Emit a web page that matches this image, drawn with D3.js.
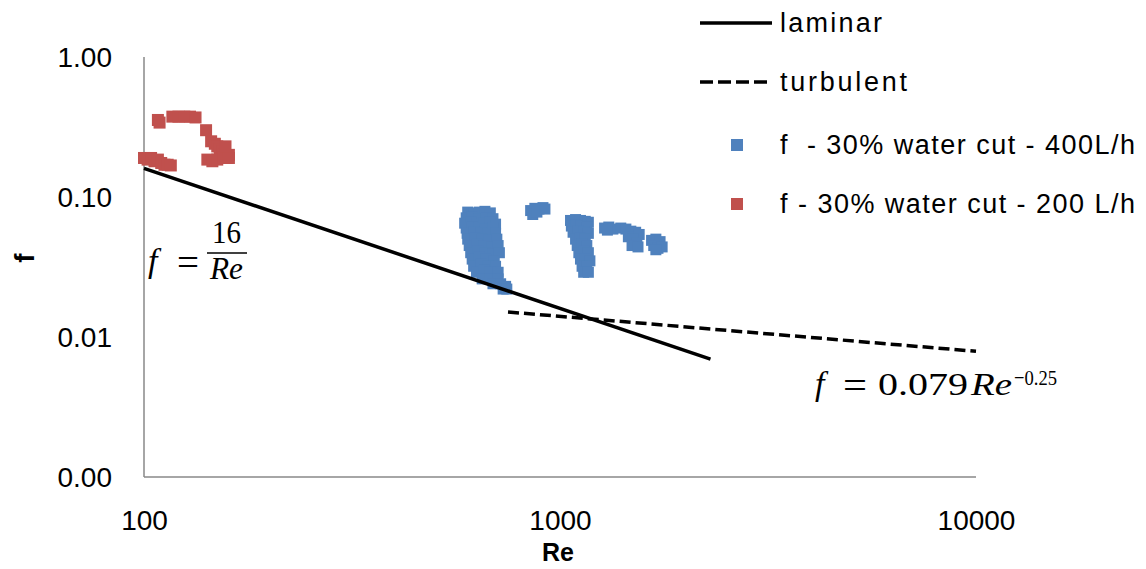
<!DOCTYPE html>
<html><head><meta charset="utf-8">
<script src="https://cdn.jsdelivr.net/npm/d3@7"></script>
<style>body{margin:0;background:#fff}text{font-family:"Liberation Sans",Arial,sans-serif}text.m{font-family:"Liberation Serif","DejaVu Serif",serif}</style>
</head><body><svg id="c" width="1146" height="569"></svg>
<script>
const xTicks=[100,1000,10000];
const yTicks=[0.001,0.01,0.1,1];
const laminarRe=[100,2300];
const turbulentRe=[750,10000];
const series400Re=[600,620,640,660,680, 595,615,640,665,690, 590,610,630,655,680,700, 595,615,640,660,690, 598,620,645,670,700, 600,625,650,675,705, 605,630,655,685,710, 610,635,660,690,715, 615,640,665,695, 620,645,670,700, 630,655,680,710, 650,680,710, 690,720,740, 730,745,
 850,870,890,910,860,880,920,
 1060,1090,1120,1150,1170, 1065,1095,1125,1160, 1075,1105,1140,1170, 1090,1120,1150, 1100,1130,1160, 1110,1140,1170, 1120,1150,1180, 1130,1160, 1140,1170,
 1280,1310,1340,1300,
 1400,1440,1480,1520,1550,1460,1500,1530,1490,1540,
 1660,1700,1740,1680,1720,1760,1700];
const series400f=[0.078,0.077,0.078,0.079,0.077, 0.071,0.072,0.07,0.071,0.07, 0.065,0.066,0.064,0.065,0.066,0.064, 0.06,0.061,0.06,0.059,0.06, 0.055,0.056,0.055,0.054,0.055, 0.05,0.051,0.05,0.049,0.05, 0.045,0.046,0.045,0.044,0.045, 0.04,0.041,0.04,0.039,0.04, 0.036,0.037,0.036,0.035, 0.032,0.033,0.032,0.032, 0.029,0.03,0.029,0.029, 0.026,0.026,0.026, 0.024,0.024,0.023, 0.022,0.022,
 0.08,0.083,0.082,0.084,0.075,0.078,0.082,
 0.068,0.069,0.068,0.067,0.066, 0.062,0.063,0.062,0.061, 0.056,0.057,0.056,0.055, 0.05,0.051,0.05, 0.045,0.046,0.045, 0.04,0.041,0.04, 0.036,0.036,0.035, 0.032,0.032, 0.029,0.029,
 0.06,0.061,0.059,0.058,
 0.06,0.059,0.057,0.056,0.054,0.052,0.05,0.047,0.045,0.044,
 0.049,0.05,0.048,0.045,0.043,0.044,0.042];
const series200Re=[100,102,104,106,108,110,112,114,116,108,109,117,121,125,129,133,141,145,148,150,152,154,156,158,160,142,146,150,155,160,157];
const series200f=[0.19,0.185,0.19,0.18,0.185,0.175,0.17,0.17,0.168,0.355,0.34,0.375,0.375,0.375,0.375,0.37,0.30,0.25,0.24,0.23,0.22,0.21,0.2,0.19,0.19,0.185,0.18,0.185,0.19,0.2,0.23];
const legendLabels=["laminar","turbulent","f  - 30% water cut - 400L/h","f - 30% water cut - 200 L/h"];
const blue="#4F81BD", red="#C0504D";

const svg=d3.select("#c");
const x=d3.scaleLog().domain([100,10000]).range([144,976]);
const y=d3.scaleLog().domain([0.001,1]).range([477,57]);

// axes
svg.append("line").attr("x1",x(100)).attr("x2",x(100)).attr("y1",y(1)).attr("y2",y(0.001)).attr("stroke","#898989").attr("stroke-width",1.5);
svg.append("line").attr("x1",x(100)).attr("x2",x(10000)).attr("y1",y(0.001)).attr("y2",y(0.001)).attr("stroke","#898989").attr("stroke-width",1.5);
const ya=svg.append("g").attr("transform",`translate(${x(100)},0)`).call(d3.axisLeft(y).tickValues(yTicks).tickFormat(d=>d.toFixed(2)).tickSize(0).tickPadding(32));
ya.select(".domain").remove();
ya.selectAll("text").attr("font-size",28).attr("fill","#000").attr("dy","0.35em");
const xa=svg.append("g").attr("transform",`translate(0,${y(0.001)})`).call(d3.axisBottom(x).tickValues(xTicks).tickFormat(d3.format("d")).tickSize(0).tickPadding(0));
xa.select(".domain").remove();
xa.selectAll("text").attr("font-size",28).attr("fill","#000").attr("dy",null).attr("y",53);
svg.append("text").attr("x",558).attr("y",561).attr("text-anchor","middle").attr("font-size",25).attr("font-weight","bold").text("Re");
svg.append("text").attr("transform","translate(34,258) rotate(-90)").attr("text-anchor","middle").attr("font-size",28).attr("font-weight","bold").text("f");

// points
const sq=11;
svg.append("g").selectAll("rect").data(series400Re.map((r,i)=>[r,series400f[i]])).join("rect")
 .attr("x",d=>x(d[0])-sq/2).attr("y",d=>y(d[1])-sq/2).attr("width",sq).attr("height",sq).attr("fill",blue);
svg.append("g").selectAll("rect").data(series200Re.map((r,i)=>[r,series200f[i]])).join("rect")
 .attr("x",d=>x(d[0])-6).attr("y",d=>y(d[1])-6).attr("width",12).attr("height",12).attr("fill",red);

// lines
const lam=Re=>16/Re, turb=Re=>0.079*Math.pow(Re,-0.25);
const line=d3.line().x(d=>x(d[0])).y(d=>y(d[1]));
svg.append("path").attr("d",line(laminarRe.map(r=>[r,lam(r)]))).attr("stroke","#000").attr("stroke-width",3.5).attr("fill","none");
svg.append("path").attr("d",line(turbulentRe.map(r=>[r,turb(r)]))).attr("stroke","#000").attr("stroke-width",3.5).attr("stroke-dasharray","11,5").attr("fill","none");

// equations
const eq=svg.append("g").attr("font-size",32);
const mt=(xx,yy,t)=>eq.append("text").attr("class","m").attr("x",xx).attr("y",yy).text(t);
mt(148,272,"f").attr("font-style","italic").attr("font-size",34);
mt(188,275,"=").attr("text-anchor","middle").attr("font-size",38).attr("textLength",22).attr("lengthAdjust","spacingAndGlyphs");
mt(212,243,"16").attr("textLength",29).attr("lengthAdjust","spacingAndGlyphs");
eq.append("line").attr("x1",207).attr("x2",247).attr("y1",253).attr("y2",253).attr("stroke","#000").attr("stroke-width",1.6);
mt(210,279,"Re").attr("font-style","italic").attr("textLength",33).attr("lengthAdjust","spacingAndGlyphs");
mt(815,395,"f").attr("font-style","italic").attr("font-size",34);
mt(855,398,"=").attr("text-anchor","middle").attr("font-size",38).attr("textLength",24).attr("lengthAdjust","spacingAndGlyphs");
mt(878,395,"0.079").attr("textLength",90).attr("lengthAdjust","spacingAndGlyphs");
mt(971,395,"Re").attr("font-style","italic").attr("textLength",41).attr("lengthAdjust","spacingAndGlyphs");
mt(1014,385,"−0.25").attr("font-size",22).attr("textLength",43).attr("lengthAdjust","spacingAndGlyphs");

// legend
const lg=svg.append("g");
const ly=[23,82,145,204];
const lw=[102,127,355,355];
lg.append("line").attr("x1",700).attr("x2",772).attr("y1",ly[0]).attr("y2",ly[0]).attr("stroke","#000").attr("stroke-width",3.5);
lg.append("line").attr("x1",700).attr("x2",772).attr("y1",ly[1]).attr("y2",ly[1]).attr("stroke","#000").attr("stroke-width",3.5).attr("stroke-dasharray","13,5");
lg.append("rect").attr("x",731).attr("y",ly[2]-6).attr("width",12).attr("height",12).attr("fill",blue);
lg.append("rect").attr("x",731).attr("y",ly[3]-6).attr("width",12).attr("height",12).attr("fill",red);
lg.selectAll("text.l").data(legendLabels).join("text").attr("class","l").attr("x",780).attr("y",(d,i)=>ly[i]).attr("dy","0.35em").attr("font-size",27)
 .attr("textLength",(d,i)=>lw[i]).attr("lengthAdjust","spacing").attr("xml:space","preserve").style("white-space","pre").text(d=>d);
</script></body></html>
